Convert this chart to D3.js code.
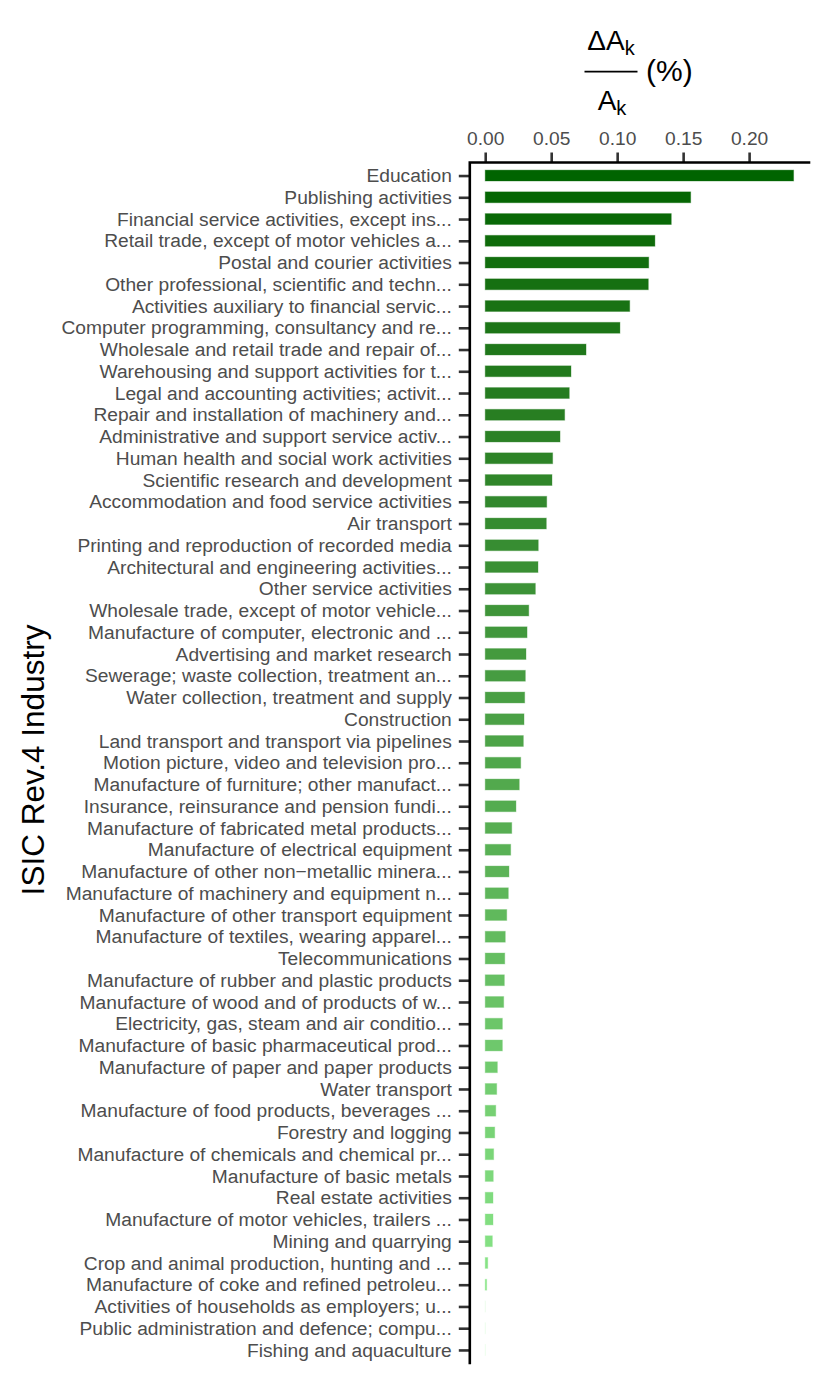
<!DOCTYPE html>
<html>
<head>
<meta charset="utf-8">
<script src="https://cdn.jsdelivr.net/npm/d3@7"></script>
<style>
  html, body { margin: 0; padding: 0; background: #ffffff; }
  svg { display: block; font-family: "Liberation Sans", Arial, sans-serif; }
</style>
</head>
<body>
<svg id="chart" width="830" height="1384"></svg>
<script>
const categories = [
  "Education",
  "Publishing activities",
  "Financial service activities, except ins...",
  "Retail trade, except of motor vehicles a...",
  "Postal and courier activities",
  "Other professional, scientific and techn...",
  "Activities auxiliary to financial servic...",
  "Computer programming, consultancy and re...",
  "Wholesale and retail trade and repair of...",
  "Warehousing and support activities for t...",
  "Legal and accounting activities; activit...",
  "Repair and installation of machinery and...",
  "Administrative and support service activ...",
  "Human health and social work activities",
  "Scientific research and development",
  "Accommodation and food service activities",
  "Air transport",
  "Printing and reproduction of recorded media",
  "Architectural and engineering activities...",
  "Other service activities",
  "Wholesale trade, except of motor vehicle...",
  "Manufacture of computer, electronic and ...",
  "Advertising and market research",
  "Sewerage; waste collection, treatment an...",
  "Water collection, treatment and supply",
  "Construction",
  "Land transport and transport via pipelines",
  "Motion picture, video and television pro...",
  "Manufacture of furniture; other manufact...",
  "Insurance, reinsurance and pension fundi...",
  "Manufacture of fabricated metal products...",
  "Manufacture of electrical equipment",
  "Manufacture of other non\u2212metallic minera...",
  "Manufacture of machinery and equipment n...",
  "Manufacture of other transport equipment",
  "Manufacture of textiles, wearing apparel...",
  "Telecommunications",
  "Manufacture of rubber and plastic products",
  "Manufacture of wood and of products of w...",
  "Electricity, gas, steam and air conditio...",
  "Manufacture of basic pharmaceutical prod...",
  "Manufacture of paper and paper products",
  "Water transport",
  "Manufacture of food products, beverages ...",
  "Forestry and logging",
  "Manufacture of chemicals and chemical pr...",
  "Manufacture of basic metals",
  "Real estate activities",
  "Manufacture of motor vehicles, trailers ...",
  "Mining and quarrying",
  "Crop and animal production, hunting and ...",
  "Manufacture of coke and refined petroleu...",
  "Activities of households as employers; u...",
  "Public administration and defence; compu...",
  "Fishing and aquaculture"
];

const values = [
  0.2337, 0.1557, 0.1410, 0.1286, 0.1239, 0.1236, 0.1095, 0.1021, 0.0764, 0.0650,
  0.0637, 0.0602, 0.0567, 0.0511, 0.0506, 0.0466, 0.0463, 0.0402, 0.0400, 0.0380,
  0.0330, 0.0317, 0.0309, 0.0304, 0.0299, 0.0294, 0.0289, 0.0269, 0.0258, 0.0233,
  0.0201, 0.0193, 0.0180, 0.0175, 0.0163, 0.0152, 0.0148, 0.0145, 0.0140, 0.0130,
  0.0130, 0.0092, 0.0087, 0.0080, 0.0072, 0.0064, 0.0061, 0.0059, 0.0059, 0.0054,
  0.0019, 0.0011, 0.0000, 0.0000, 0.0000
];

const xTickValues = [0, 0.05, 0.10, 0.15, 0.20];
const xTickLabels = ["0.00", "0.05", "0.10", "0.15", "0.20"];

const colorHigh = "#006400";
const colorLow = "#90EE90";

const data = categories.map((c, i) => ({ cat: c, value: values[i], rank: i }));

const svg = d3.select("#chart");
svg.append("rect").attr("width", 830).attr("height", 1384).attr("fill", "#ffffff");

const panel = { left: 469.8, right: 809, top: 162.5, bottom: 1363 };
const maxV = d3.max(values);
const x = d3.scaleLinear()
  .domain([-0.05 * maxV, 1.05 * maxV])
  .range([panel.left, panel.right]);

const y = d3.scalePoint()
  .domain(categories)
  .range([panel.top, panel.bottom])
  .padding(0.6);

const barH = y.step() * 0.5;
const color = d3.scaleLinear()
  .domain([0, categories.length - 1])
  .range([colorHigh, colorLow])
  .interpolate(d3.interpolateLab);

// bars
svg.append("g").selectAll("rect")
  .data(data)
  .join("rect")
  .attr("x", x(0))
  .attr("y", d => y(d.cat) - barH / 2)
  .attr("width", d => Math.max(0.05, x(d.value) - x(0)))
  .attr("height", barH)
  .attr("fill", d => color(d.rank))
  .attr("stroke", d => color(d.rank))
  .attr("stroke-opacity", d => d.value > 0 ? 0.35 : 0.12)
  .attr("stroke-width", 1);

// left axis (category labels)
const yAxis = d3.axisLeft(y).tickSize(11).tickPadding(7).tickSizeOuter(0);
const gy = svg.append("g")
  .attr("transform", `translate(${panel.left},0)`)
  .call(yAxis);
gy.select(".domain").remove();
gy.selectAll(".tick line").attr("stroke", "#333333").attr("stroke-width", 2.6);
gy.selectAll(".tick text")
  .attr("fill", "#4d4d4d")
  .attr("font-size", "19.2px")
  .attr("font-family", "Liberation Sans, Arial, sans-serif");

// top axis
const xAxis = d3.axisTop(x)
  .tickValues(xTickValues)
  .tickFormat((d, i) => xTickLabels[i])
  .tickSize(10).tickPadding(8).tickSizeOuter(0);
const gx = svg.append("g")
  .attr("transform", `translate(0,${panel.top})`)
  .call(xAxis);
gx.select(".domain").remove();
gx.selectAll(".tick line").attr("stroke", "#333333").attr("stroke-width", 2.6);
gx.selectAll(".tick text")
  .attr("fill", "#4d4d4d")
  .attr("font-size", "19.2px")
  .attr("font-family", "Liberation Sans, Arial, sans-serif");

// axis lines
svg.append("path")
  .attr("d", `M${panel.right},${panel.top}H${panel.left}V${panel.bottom}`)
  .attr("fill", "none")
  .attr("stroke", "#000000")
  .attr("stroke-width", 2.6)
  .attr("stroke-linecap", "square");

// y axis title
svg.append("text")
  .attr("transform", "translate(44,760) rotate(-90)")
  .attr("text-anchor", "middle")
  .attr("font-size", "31.5px")
  .attr("fill", "#000000")
  .text("ISIC Rev.4 Industry");

// x axis title (fraction)
const tg = svg.append("g").attr("fill", "#000000");
const num = tg.append("text")
  .attr("x", 611).attr("y", 49.5)
  .attr("text-anchor", "middle")
  .attr("font-size", "28px");
num.append("tspan").text("\u0394A");
num.append("tspan").attr("dy", 5.5).attr("font-size", "20px").text("k");

const den = tg.append("text")
  .attr("x", 612).attr("y", 110)
  .attr("text-anchor", "middle")
  .attr("font-size", "28px");
den.append("tspan").text("A");
den.append("tspan").attr("dy", 5).attr("font-size", "20px").text("k");

tg.append("line")
  .attr("x1", 584.5).attr("x2", 637.5)
  .attr("y1", 71.7).attr("y2", 71.7)
  .attr("stroke", "#000000").attr("stroke-width", 1.8);

tg.append("text")
  .attr("x", 646).attr("y", 81)
  .attr("font-size", "30px")
  .text("(%)");
</script>
</body>
</html>
